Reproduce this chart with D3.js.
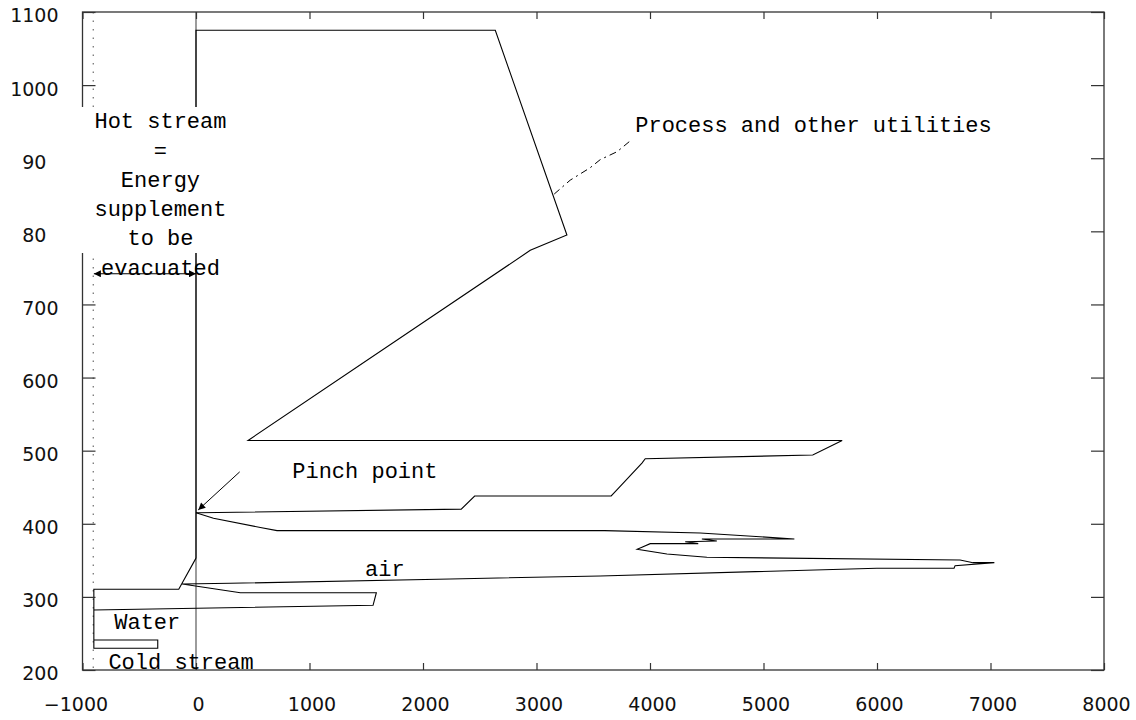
<!DOCTYPE html>
<html>
<head>
<meta charset="utf-8">
<script src="https://cdn.jsdelivr.net/npm/d3@7"></script>
<style>
  body { margin: 0; background: #fff; }
  svg { display: block; }
</style>
</head>
<body>
<div class="chart"></div>
<script>
	// ticks
	var xTicks = [-1000, 0, 1000, 2000, 3000, 4000, 5000, 6000, 7000, 8000];
	var yTicks = [200, 300, 400, 500, 600, 700, 800, 900, 1000, 1100];

	// upper part of the loop (hot side, from bottom of x=0 up and back to pinch)
	var upperCurve = [
		[0, 353], [0, 1075], [2637, 1075], [3268, 795], [2945, 774], [459, 514],
		[5693, 514], [5434, 494], [3958, 489], [3929, 483], [3700, 445], [3658, 438],
		[2455, 438], [2337, 420], [24, 415], [0, 415]
	];

	// lower part: pinch -> zigzag -> air -> water -> cold stream -> back to x=0
	var lowerCurve = [
		[0, 415], [154, 407.5], [567, 395], [714, 390.6], [3600, 390.6], [4442, 387.4],
		[5272, 379.2], [4457, 379.2], [4589, 376.5], [4310, 375.5], [4425, 372.8],
		[4002, 372.8], [3929, 367.9], [3887, 365.1], [4149, 358.7], [4501, 354.2],
		[6732, 350.5], [6846, 346.8], [7034, 346.8], [6688, 342.7], [6679, 339.2],
		[5998, 339.2], [3561, 328.6], [2241, 324.5], [303, 318.6], [-122, 317.6],
		[391, 305.7], [1589, 305.7], [1560, 288.5], [-900, 282], [-900, 241],
		[-337, 241], [-337, 229.7], [-900, 229.7], [-900, 310.4], [-152, 310.4], [0, 353]
	];

	// dash-dot leader to "Process and other utilities"
	var leaderLine = [[3156, 851], [3297, 870], [3473, 887], [3561, 898], [3711, 909], [3820, 923]];

	// pinch arrow and energy arrow
	var pinchArrow = [[385, 471], [20, 419]];
	var energyArrow = [[-900, 742], [0, 742]];
	var coldLimit = -905;

	// text labels
	var labels = [
		{ text: "Process and other utilities", x: 3870, y: 936 },
		{ text: "Pinch point", x: 848, y: 462.7 },
		{ text: "air", x: 1490, y: 329 },
		{ text: "Water", x: -720, y: 255.7 },
		{ text: "Cold stream", x: -772, y: 201 }
	];
	var hotStreamLines = ["Hot stream", "=", "Energy", "supplement", "to be", "evacuated"];
	var hotStreamAnchor = { x: -313, y: 941 };

	// set margins
	var margin = { left: 82.5, right: 32, top: 12, bottom: 50 },
		width = 1136 - margin.left - margin.right,
		height = 720 - margin.top - margin.bottom;

	var svg = d3.select(".chart")
		.append("svg")
			.attr("width", 1136)
			.attr("height", 720);

	var g = svg.append("g")
		.attr("transform", "translate(" + margin.left + "," + margin.top + ")");

	var x = d3.scaleLinear().domain([-1000, 8000]).range([0, width]);
	var y = d3.scaleLinear().domain([200, 1100]).range([height, 0]);

	var line = d3.line()
		.x(function(d) { return x(d[0]); })
		.y(function(d) { return y(d[1]); });

	// arrow markers
	var defs = svg.append("defs");
	defs.append("marker")
		.attr("id", "arrowEnd")
		.attr("viewBox", "0 0 10 10")
		.attr("refX", 10).attr("refY", 5)
		.attr("markerWidth", 9).attr("markerHeight", 7)
		.attr("markerUnits", "userSpaceOnUse")
		.attr("orient", "auto")
		.append("path").attr("d", "M0,0 L10,5 L0,10 z").attr("fill", "#000");
	defs.append("marker")
		.attr("id", "arrowStart")
		.attr("viewBox", "0 0 10 10")
		.attr("refX", 0).attr("refY", 5)
		.attr("markerWidth", 9).attr("markerHeight", 7)
		.attr("markerUnits", "userSpaceOnUse")
		.attr("orient", "auto")
		.append("path").attr("d", "M10,0 L0,5 L10,10 z").attr("fill", "#000");

	// zero line
	g.append("line")
		.attr("x1", x(0)).attr("x2", x(0))
		.attr("y1", 0).attr("y2", height)
		.attr("stroke", "#666")
		.attr("stroke-width", 1.3);

	// dotted cold limit
	g.append("line")
		.attr("x1", x(coldLimit)).attr("x2", x(coldLimit))
		.attr("y1", 0).attr("y2", height)
		.attr("stroke", "#777")
		.attr("stroke-width", 1.3)
		.attr("stroke-dasharray", "1.5,7");

	// curves
	g.append("path")
		.datum(upperCurve)
		.attr("d", line)
		.attr("fill", "none")
		.attr("stroke", "#000")
		.attr("stroke-width", 1.1);

	g.append("path")
		.datum(lowerCurve)
		.attr("d", line)
		.attr("fill", "none")
		.attr("stroke", "#000")
		.attr("stroke-width", 1.1);

	g.append("path")
		.datum(leaderLine)
		.attr("d", line)
		.attr("fill", "none")
		.attr("stroke", "#000")
		.attr("stroke-width", 1)
		.attr("stroke-dasharray", "7,4,2,4");

	g.append("path")
		.datum(pinchArrow)
		.attr("d", line)
		.attr("fill", "none")
		.attr("stroke", "#000")
		.attr("stroke-width", 1)
		.attr("marker-end", "url(#arrowEnd)");

	g.append("path")
		.datum(energyArrow)
		.attr("d", line)
		.attr("fill", "none")
		.attr("stroke", "#000")
		.attr("stroke-width", 1.2)
		.attr("marker-start", "url(#arrowStart)")
		.attr("marker-end", "url(#arrowEnd)");

	// frame
	g.append("rect")
		.attr("width", width)
		.attr("height", height)
		.attr("fill", "none")
		.attr("stroke", "#333")
		.attr("stroke-width", 1.3);

	var fmt = function(d) { return d < 0 ? "\u2212" + Math.abs(d) : String(d); };

	// x ticks (bottom and top, inward)
	var xAxisBottom = g.append("g")
		.attr("transform", "translate(0," + height + ")")
		.call(d3.axisBottom(x).tickValues(xTicks).tickSizeInner(-7).tickSizeOuter(0).tickPadding(28)
			.tickFormat(fmt));
	var xAxisTop = g.append("g")
		.call(d3.axisTop(x).tickValues(xTicks).tickSizeInner(-7).tickSizeOuter(0).tickFormat(""));

	// y ticks (left and right, inward)
	var yAxisLeft = g.append("g")
		.call(d3.axisLeft(y).tickValues(yTicks).tickSizeInner(-13).tickSizeOuter(0).tickPadding(24)
			.tickFormat(fmt));
	var yAxisRight = g.append("g")
		.attr("transform", "translate(" + width + ",0)")
		.call(d3.axisRight(y).tickValues(yTicks).tickSizeInner(-13).tickSizeOuter(0).tickFormat(""));

	g.selectAll(".domain").remove();
	g.selectAll(".tick line").attr("stroke", "#333").attr("stroke-width", 1.2);
	g.selectAll(".tick text")
		.attr("font-family", "DejaVu Sans")
		.attr("font-size", "19px")
		.attr("fill", "#111");
	yAxisLeft.selectAll(".tick text").attr("dy", "0.52em");
	xAxisBottom.selectAll(".tick text")
		.attr("dy", "0.71em")
		.attr("dx", function(d) { return d < 0 ? -7 : 2; });

	// white box behind the hot stream text
	svg.append("rect")
		.attr("x", 46)
		.attr("y", 107)
		.attr("width", 194)
		.attr("height", 146)
		.attr("fill", "#fff");

	var notes = svg.append("g")
		.attr("transform", "translate(" + margin.left + "," + margin.top + ")");

	var hot = notes.append("text")
		.attr("font-family", "Liberation Mono")
		.attr("font-size", "22px")
		.attr("text-anchor", "middle")
		.attr("fill", "#000");
	hot.selectAll("tspan")
		.data(hotStreamLines)
		.enter()
		.append("tspan")
			.attr("x", x(hotStreamAnchor.x))
			.attr("y", function(d, i) { return y(hotStreamAnchor.y) + i * 29.3; })
			.text(function(d) { return d; });

	notes.selectAll(".label")
		.data(labels)
		.enter()
		.append("text")
			.attr("class", "label")
			.attr("x", function(d) { return x(d.x); })
			.attr("y", function(d) { return y(d.y); })
			.attr("font-family", "Liberation Mono")
			.attr("font-size", "22px")
			.attr("fill", "#000")
			.text(function(d) { return d.text; });
</script>
</body>
</html>
